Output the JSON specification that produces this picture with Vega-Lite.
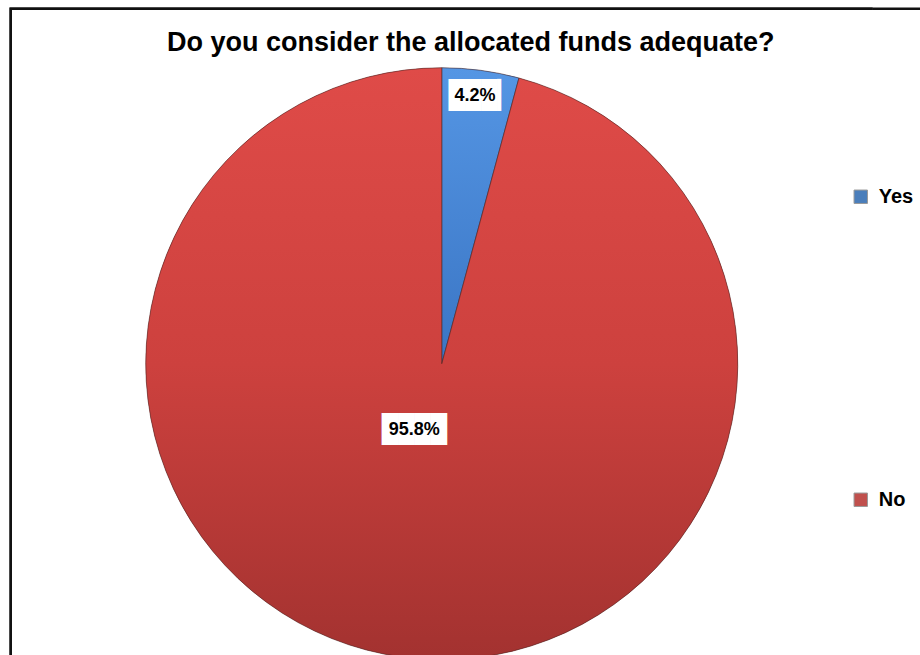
{
  "$schema": "https://vega.github.io/schema/vega-lite/v6.json",
  "autosize": {"type": "pad"},
  "padding": {"left": 8.75, "top": 6.75, "right": 0, "bottom": 0},
  "background": "white",
  "spacing": 0,
  "bounds": "flush",
  "config": {"view": {"stroke": null}},
  "title": {
    "text": "Do you consider the allocated funds adequate?",
    "font": "Liberation Sans",
    "fontSize": 27,
    "fontWeight": "bold",
    "color": "black",
    "anchor": "middle",
    "dx": 5,
    "offset": -70,
    "baseline": "alphabetic"
  },
  "hconcat": [
    {
      "width": 862,
      "height": 710,
      "data": {
        "values": [
          {"answer": "Yes", "pct": 4.2, "label": "4.2%"},
          {"answer": "No", "pct": 95.8, "label": "95.8%"}
        ]
      },
      "layer": [
        {
          "mark": {"type": "rect", "fill": null, "stroke": "#111111", "strokeWidth": 2.5, "strokeDash": [862, 1572, 710]},
          "encoding": {}
        },
        {
          "mark": {"type": "arc", "outerRadius": 296},
          "encoding": {
            "theta": {"field": "pct", "type": "quantitative", "stack": true},
            "order": {"field": "answer", "sort": "descending"},
            "color": {
              "field": "answer",
              "type": "nominal",
              "sort": ["Yes", "No"],
              "scale": {"domain": ["Yes", "No"], "range": ["#4a7ebb", "#c0504d"]},
              "legend": {
                "title": null,
                "orient": "none",
                "legendX": 840,
                "legendY": 178,
                "padding": 0,
                "labelFont": "Liberation Sans",
                "labelFontSize": 20,
                "labelFontWeight": "bold",
                "labelColor": "black",
                "labelOffset": 8,
                "symbolType": "square",
                "symbolSize": 180,
                "symbolStrokeColor": "#999999",
                "symbolStrokeWidth": 1,
                "rowPadding": 283
              }
            }
          }
        },
        {
          "mark": {"type": "arc", "outerRadius": 296, "stroke": "#4a2220", "strokeWidth": 0.8, "strokeOpacity": 0.7},
          "encoding": {
            "theta": {"field": "pct", "type": "quantitative", "stack": true},
            "order": {"field": "answer", "sort": "descending"},
            "detail": {"field": "answer", "type": "nominal"},
            "fill": {
              "condition": {
                "test": "datum.answer === 'Yes'",
                "value": {"gradient": "linear", "x1": 0, "y1": 0, "x2": 0, "y2": 1,
                  "stops": [{"offset": 0, "color": "#5596e4"}, {"offset": 1, "color": "#3a75c4"}]}
              },
              "value": {"gradient": "linear", "x1": 0, "y1": 0, "x2": 0, "y2": 1,
                "stops": [{"offset": 0, "color": "#df4b48"}, {"offset": 0.5, "color": "#cd413e"}, {"offset": 1, "color": "#a33230"}]}
            }
          }
        },
        {
          "mark": {
            "type": "text",
            "font": "DejaVu Sans Mono",
            "fontSize": 27,
            "color": "white",
            "baseline": "middle",
            "dx": {"expr": "datum.answer === 'No' ? -18 : 4"},
            "dy": {"expr": "datum.answer === 'No' ? -5 : -2"}
          },
          "encoding": {
            "theta": {"field": "pct", "type": "quantitative", "stack": true},
            "order": {"field": "answer", "sort": "descending"},
            "detail": {"field": "answer", "type": "nominal"},
            "text": {"condition": {"test": "datum.answer === 'No'", "value": "████"}, "value": "███▎"},
            "radius": {"field": "pct", "type": "quantitative", "scale": {"type": "linear", "domain": [4.2, 95.8], "range": [268, 72], "zero": false}}
          }
        },
        {
          "mark": {
            "type": "text",
            "font": "Liberation Sans",
            "fontSize": 18,
            "fontWeight": "bold",
            "color": "black",
            "baseline": "middle",
            "dx": {"expr": "datum.answer === 'No' ? -18 : -2"},
            "dy": {"expr": "datum.answer === 'No' ? -5 : -2"}
          },
          "encoding": {
            "theta": {"field": "pct", "type": "quantitative", "stack": true},
            "order": {"field": "answer", "sort": "descending"},
            "detail": {"field": "answer", "type": "nominal"},
            "text": {"field": "label", "type": "nominal"},
            "radius": {"field": "pct", "type": "quantitative", "scale": {"type": "linear", "domain": [4.2, 95.8], "range": [268, 72], "zero": false}}
          }
        }
      ]
    },
    {
      "width": 48,
      "height": 710,
      "data": {"values": [{"frame": "top"}]},
      "mark": {"type": "rect", "fill": null, "stroke": "#111111", "strokeWidth": 2.5, "strokeDash": [48, 2000]},
      "encoding": {}
    }
  ]
}
